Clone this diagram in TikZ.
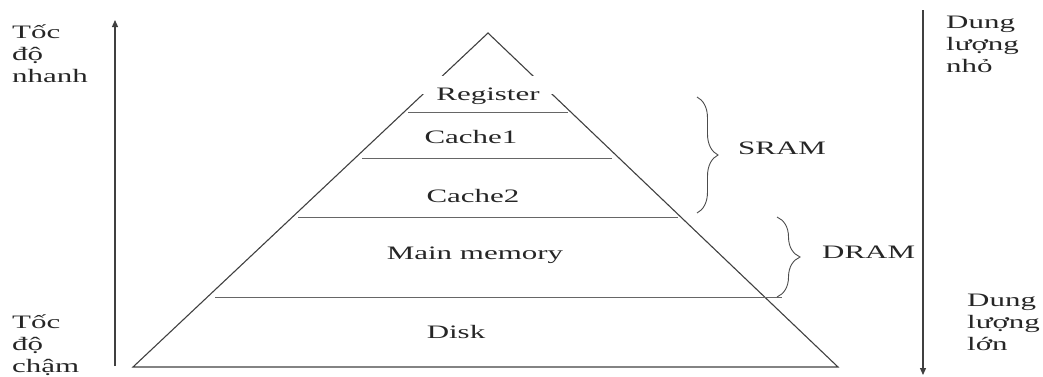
\documentclass[tikz,border=0pt]{standalone}
\usepackage{fontspec}
\setmainfont{Liberation Serif}[FakeStretch=1.63]
\usetikzlibrary{arrows.meta,decorations.pathreplacing}
\begin{document}
\begin{tikzpicture}[x=1pt,y=-1pt,
  edge/.style={draw=black!75,line width=1.1pt},
  level/.style={draw=black!60,line width=1pt},
  lbl/.style={font=\fontsize{19}{22}\selectfont,text=black!85,inner sep=0pt},
  side/.style={lbl,align=left,anchor=north west},
  axis/.style={draw=black!75,line width=1.2pt,-{Triangle[length=7pt,width=6pt]}},
  curly/.style={draw=black!70,line width=0.9pt,decorate,decoration={brace,amplitude=#1}}
]
\useasboundingbox (0,0) rectangle (1043,376);

% pyramid outline
\coordinate (apex) at (488,33);
\coordinate (bl) at (133,367);
\coordinate (br) at (838,367);
\draw[edge] (bl) -- (apex) -- (br) -- cycle;
% opening in the sides around the top label
\fill[white] (420,76) rectangle (556,94);

% level separators
\draw[level] (408,112) -- (568,112);
\draw[level] (362,158) -- (612,158);
\draw[level] (298,217) -- (678,217);
\draw[level] (215,297) -- (782,297);

% level names
\node[lbl,anchor=base] (reg)  at (488,100) {Register};
\node[lbl,anchor=base] (c1)   at (471,143) {Cache1};
\node[lbl,anchor=base] (c2)   at (473,202) {Cache2};
\node[lbl,anchor=base] (mm)   at (475,259) {Main memory};
\node[lbl,anchor=base] (disk) at (456,338) {Disk};

% memory technology braces
\coordinate (sTop) at (697,97);
\coordinate (sBot) at (697,213);
\coordinate (dTop) at (777,217);
\coordinate (dBot) at (777,297);
\draw[curly=21pt] (sTop) -- (sBot);
\draw[curly=23pt] (dTop) -- (dBot);
\node[lbl,anchor=base west] (sram) at (738,154) {SRAM};
\node[lbl,anchor=base west] (dram) at (822,258) {DRAM};

% speed axis
\coordinate (spdLow) at (115,366);
\coordinate (spdHigh) at (115,20);
\draw[axis] (spdLow) -- (spdHigh);
\node[side] (fast) at (12,22.6) {\strut Tốc\\độ\\nhanh};
\node[side] (slow) at (12,312.6) {\strut Tốc\\độ\\chậm};

% capacity axis
\coordinate (capSmall) at (923,10);
\coordinate (capLarge) at (923,375);
\draw[axis] (capSmall) -- (capLarge);
\node[side] (small) at (946,12.6) {\strut Dung\\lượng\\nhỏ};
\node[side] (large) at (967,290.6) {\strut Dung\\lượng\\lớn};
\end{tikzpicture}
\end{document}
